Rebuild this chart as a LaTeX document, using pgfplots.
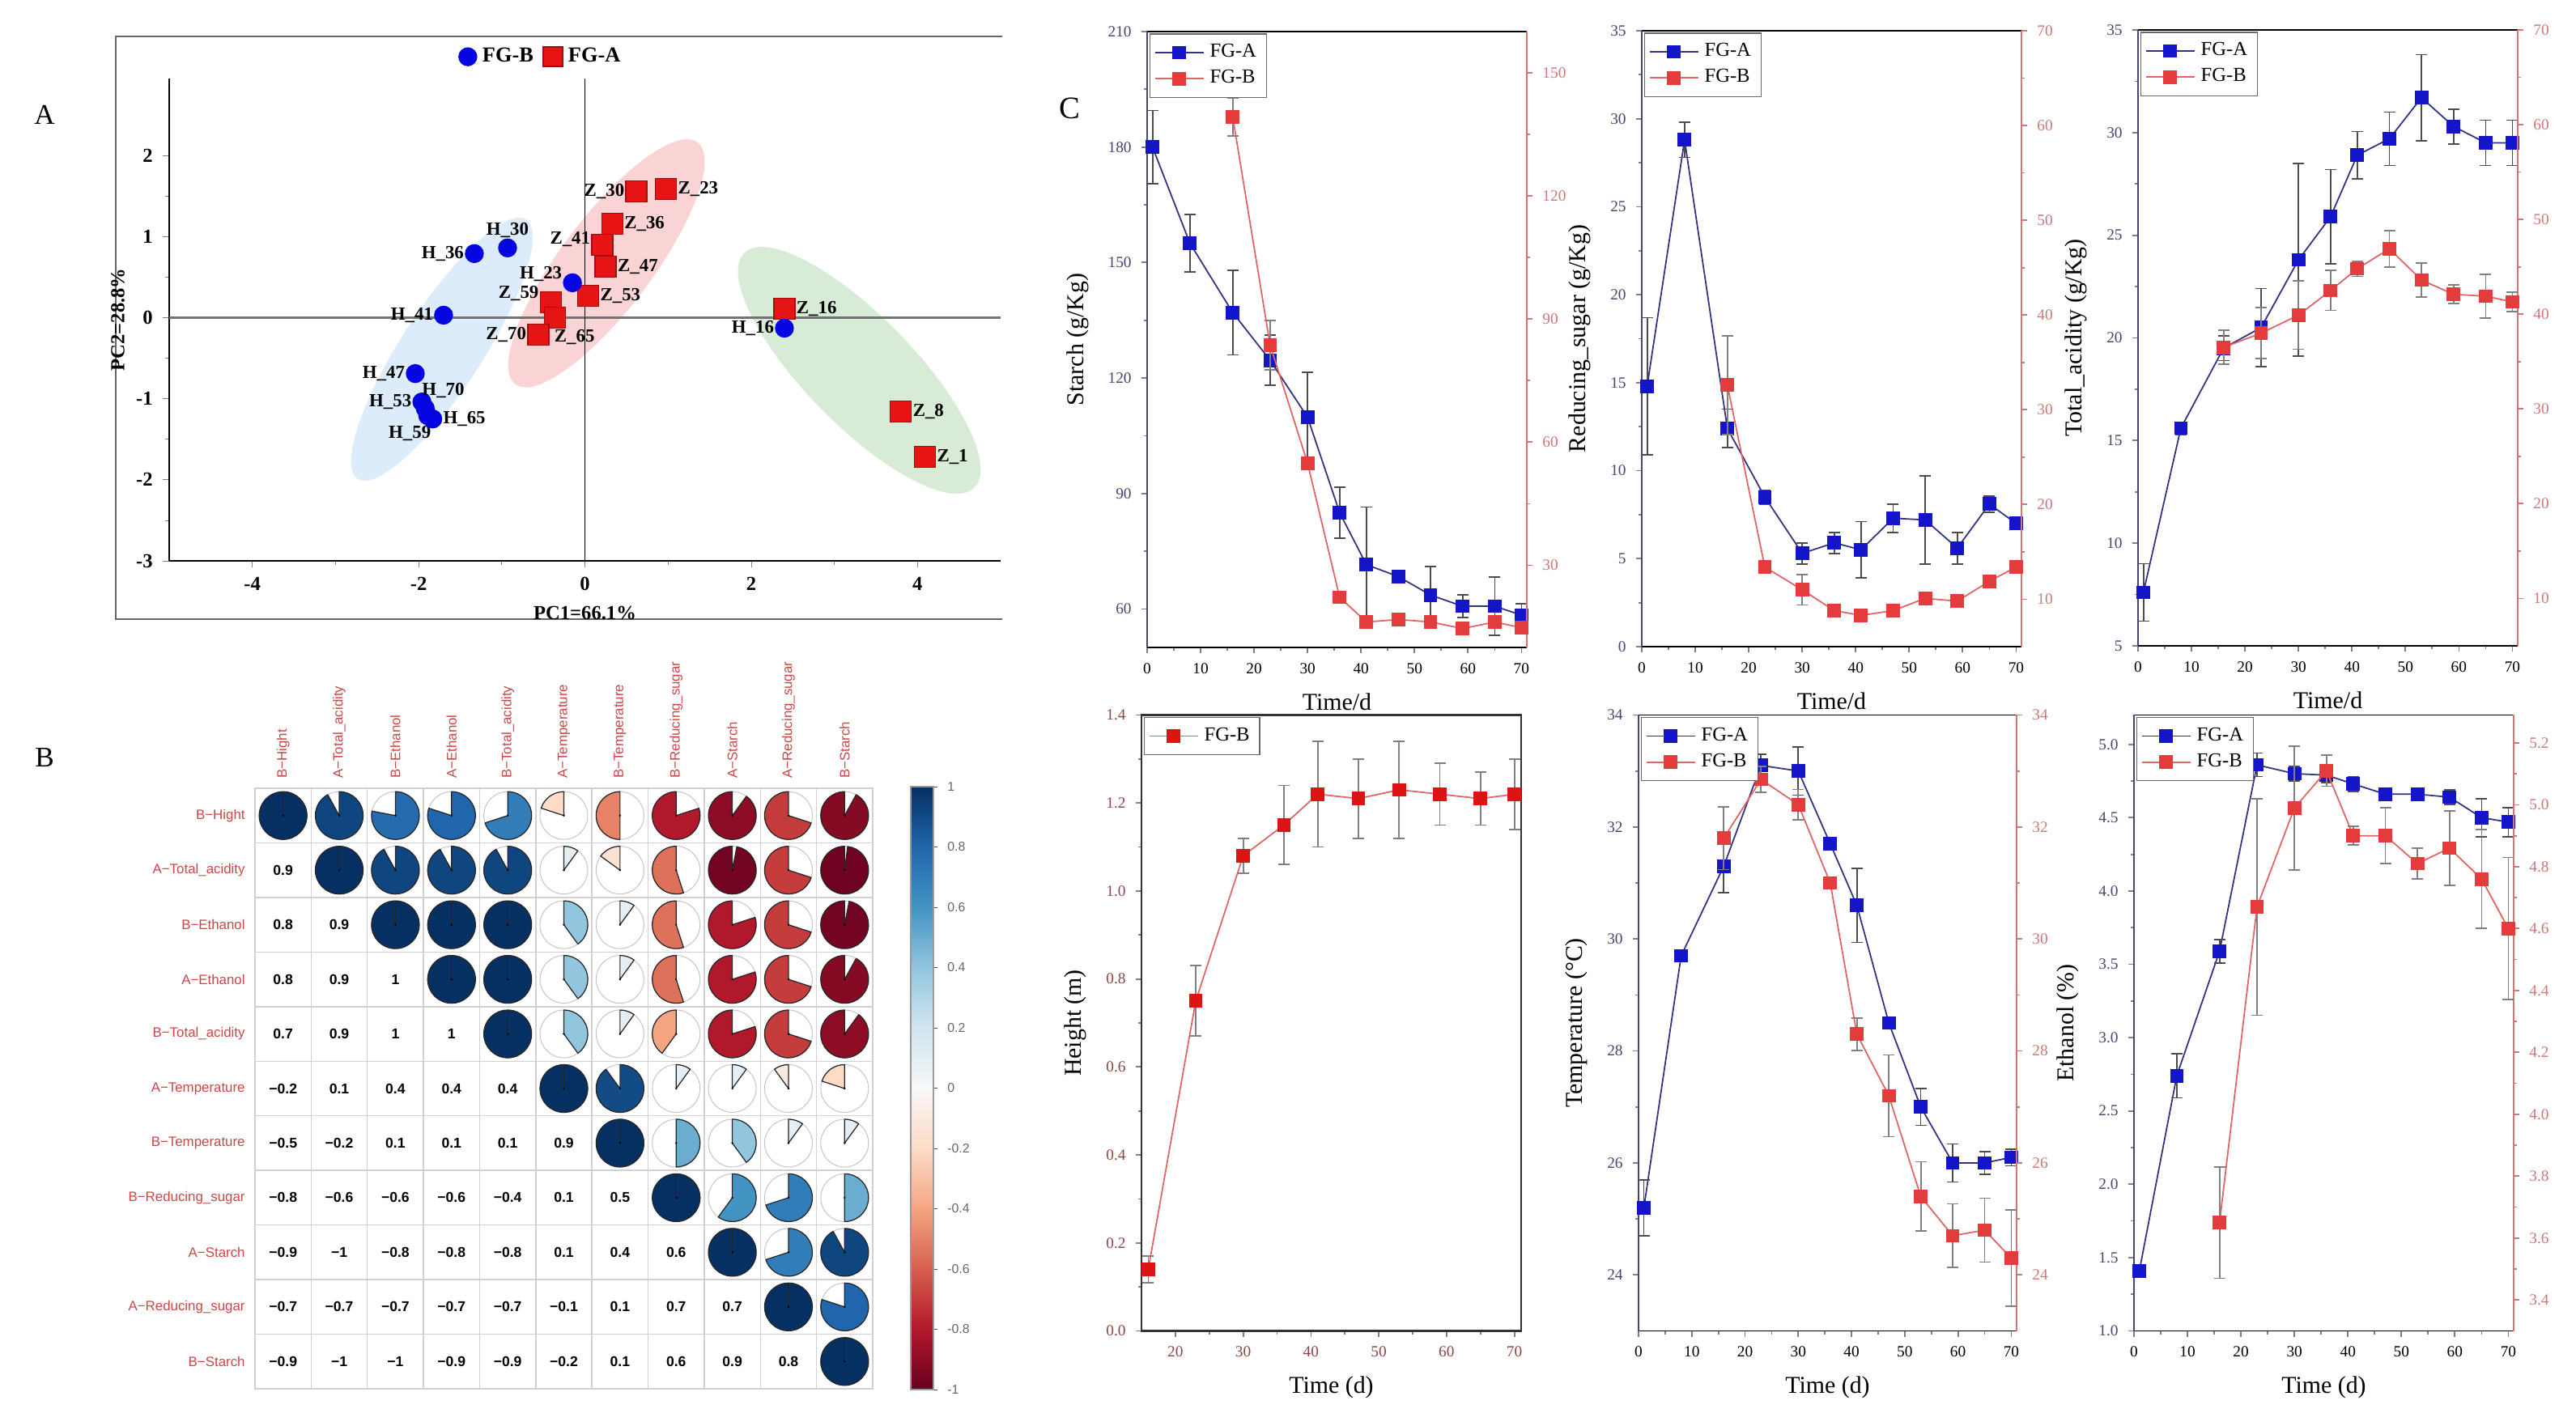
\documentclass[border=0pt]{standalone}
\usepackage{pgfplots}
\pgfplotsset{compat=1.18}
\usepackage{fontspec}
\setmainfont{Liberation Serif}
\setsansfont{Liberation Sans}

\definecolor{mkA}{RGB}{20,20,200}
\definecolor{lnA}{RGB}{50,50,130}
\definecolor{mkB}{RGB}{228,60,60}
\definecolor{lnB}{RGB}{225,100,100}
\definecolor{axL}{RGB}{70,70,110}
\definecolor{axR}{RGB}{205,120,120}
\definecolor{lblred}{RGB}{205,70,70}
\definecolor{pcablue}{RGB}{5,5,225}
\definecolor{pcared}{RGB}{230,20,20}
\definecolor{hcol}{RGB}{140,70,70}

\newcommand{\fs}[1]{\fontsize{#1}{#1}\selectfont}

\pgfplotsset{
  cbase/.style={
    scale only axis, anchor=south west, width=4.69cm, height=7.61cm,
    xmin=0, xmax=71, xtick={0,10,...,70}, minor x tick num=1,
    /pgf/number format/assume math mode=true,
    tick align=outside,
    major tick length=0.07cm, minor tick length=0.04cm,
    tick style={line width=0.5pt},
    ticklabel style={font=\fs{5.5}},
    label style={font=\fs{8.5}},
    legend cell align=left,
    legend style={at={(0.006,0.997)}, anchor=north west, draw=black!60, line width=0.4pt,
      font=\fs{7}, inner sep=1.5pt, row sep=-1pt},
  },
  cleft/.style={cbase, axis y line*=left, tick pos=left,
    y axis line style={axL, line width=0.6pt},
    yticklabel style={text=axL}},
  cright/.style={cbase, axis y line*=right, axis x line=none,
    y axis line style={axR, line width=0.6pt},
    yticklabel style={text=axR}, ytick style={axR}},
  serA/.style={lnA, line width=0.5pt, mark=square*, mark size=0.075cm,
    mark options={fill=mkA, draw=mkA, solid},
    /pgfplots/error bars/y dir=both, /pgfplots/error bars/y explicit,
    /pgfplots/error bars/error bar style={black!70, line width=0.5pt},
    /pgfplots/error bars/error mark options={rotate=90, mark size=0.07cm, black!70, line width=0.5pt}},
  serB/.style={lnB, line width=0.5pt, mark=square*, mark size=0.075cm,
    mark options={fill=mkB, draw=mkB, solid},
    /pgfplots/error bars/y dir=both, /pgfplots/error bars/y explicit,
    /pgfplots/error bars/error bar style={black!50, line width=0.5pt},
    /pgfplots/error bars/error mark options={rotate=90, mark size=0.07cm, black!50, line width=0.5pt}},
}

\begin{document}
\begin{tikzpicture}
\useasboundingbox (0,0) rectangle (31.82,17.61);

% ---------------- Panel A frame and labels
\draw[black!60, line width=0.6pt] (12.38,17.16) -- (1.43,17.16) -- (1.43,9.96) -- (12.38,9.96);
\node[font=\fs{10}] at (0.55,16.19) {A};
\node[font=\fs{10}] at (0.55,8.25) {B};
\node[font=\fs{11}] at (13.21,16.27) {C};

% ---------------- Panel A: PCA
\begin{axis}[
  at={(2.09cm,10.68cm)}, anchor=south west, scale only axis,
  width=10.27cm, height=5.96cm,
  xmin=-5, xmax=5, ymin=-3, ymax=2.95,
  xtick={-4,-2,0,2,4}, ytick={-3,-2,-1,0,1,2},
  minor x tick num=1, minor y tick num=1,
  axis x line*=bottom, axis y line*=left,
  tick align=outside, major tick length=0.08cm, minor tick length=0.05cm,
  /pgf/number format/assume math mode=true,
  ticklabel style={font=\fs{7}\bfseries},
  xlabel={PC1=66.1\%}, ylabel={PC2=28.8\%},
  label style={font=\fs{7}\bfseries},
  xlabel style={yshift=0.05cm}, ylabel style={yshift=-0.1cm},
  clip=false,
  legend style={at={(0.449,1.045)}, anchor=center, draw=none, fill=none,
    legend columns=2, font=\fs{7.5}\bfseries,
    /tikz/every even column/.append style={column sep=0.05cm}},
]
\addlegendimage{only marks, mark=*, mark size=0.11cm, mark options={fill=pcablue, draw=pcablue}}
\addlegendentry{FG-B}
\addlegendimage{only marks, mark=square*, mark size=0.12cm, mark options={fill=pcared, draw=pcared!70!black}}
\addlegendentry{FG-A}

\fill[fill={rgb,255:red,220;green,236;blue,250}, rotate around={57:(axis cs:-1.72,-0.39)}]
  (axis cs:-1.72,-0.39) ellipse[x radius=1.91cm, y radius=0.5cm];
\fill[fill={rgb,255:red,250;green,212;blue,212}, rotate around={53:(axis cs:0.26,0.67)}]
  (axis cs:0.26,0.67) ellipse[x radius=1.87cm, y radius=0.565cm];
\fill[fill={rgb,255:red,215;green,235;blue,215}, rotate around={-45.6:(axis cs:3.30,-0.65)}]
  (axis cs:3.30,-0.65) ellipse[x radius=2.03cm, y radius=0.67cm];

\draw[black!55, line width=0.9pt] (axis cs:-5,0) -- (axis cs:5,0);
\draw[black, line width=0.5pt] (axis cs:0,-3) -- (axis cs:0,2.95);

\addplot[forget plot, only marks, mark=square*, mark size=0.13cm,
  mark options={fill=pcared, draw=pcared!70!black},
  nodes near coords, point meta=explicit symbolic,
  visualization depends on={value \thisrow{anc}\as\myanc},
  every node near coord/.append style={anchor=\myanc, outer sep=0.15cm, inner sep=0pt,
    font=\fs{6.5}\bfseries, text=black}]
table[x=x, y=y, meta=lab]{
x y lab anc
0.62 1.56 Z\_30 0
0.975 1.59 Z\_23 180
0.33 1.16 Z\_36 180
0.21 0.90 Z\_41 -10
0.25 0.63 Z\_47 180
0.04 0.27 Z\_53 180
-0.41 0.19 Z\_59 -15
-0.36 0.0 Z\_65 135
-0.56 -0.21 Z\_70 0
2.40 0.11 Z\_16 180
3.80 -1.16 Z\_8 180
4.09 -1.72 Z\_1 180
};
\addplot[forget plot, only marks, mark=*, mark size=0.11cm,
  mark options={fill=pcablue, draw=pcablue},
  nodes near coords, point meta=explicit symbolic,
  visualization depends on={value \thisrow{anc}\as\myanc},
  every node near coord/.append style={anchor=\myanc, outer sep=0.13cm, inner sep=0pt,
    font=\fs{6.5}\bfseries, text=black}]
table[x=x, y=y, meta=lab]{
x y lab anc
-0.15 0.43 H\_23 -15
-0.93 0.86 H\_30 -90
-1.33 0.79 H\_36 0
-1.70 0.03 H\_41 0
-2.04 -0.69 H\_47 0
-1.96 -1.04 H\_53 0
-1.92 -1.12 H\_70 -135
-1.89 -1.21 H\_59 45
-1.83 -1.25 H\_65 180
2.40 -0.13 H\_16 0
};
\end{axis}

% ---------------- Panel B: correlation matrix
\begin{axis}[
  at={(3.15cm,0.45cm)}, anchor=south west, scale only axis,
  width=7.63cm, height=7.42cm,
  xmin=0.5, xmax=11.5, ymin=0.5, ymax=11.5,
  xtick={1,...,11}, ytick={1,...,11},
  xticklabels={B−Hight, A−Total\_acidity, B−Ethanol, A−Ethanol, B−Total\_acidity, A−Temperature, B−Temperature, B−Reducing\_sugar, A−Starch, A−Reducing\_sugar, B−Starch},
  yticklabels={B−Starch, A−Reducing\_sugar, A−Starch, B−Reducing\_sugar, B−Temperature, A−Temperature, B−Total\_acidity, A−Ethanol, B−Ethanol, A−Total\_acidity, B−Hight},
  xticklabel pos=upper,
  x tick label style={rotate=90, anchor=west, font=\sffamily\fs{4.8}, text=lblred},
  y tick label style={font=\sffamily\fs{4.8}, text=lblred},
  major tick length=0pt, minor tick length=0pt,
  minor xtick={1.5,2.5,3.5,4.5,5.5,6.5,7.5,8.5,9.5,10.5},
  minor ytick={1.5,2.5,3.5,4.5,5.5,6.5,7.5,8.5,9.5,10.5},
  xminorgrids=true, yminorgrids=true,
  minor grid style={black!18, line width=0.4pt},
  axis line style={black!18, line width=0.4pt},
  colormap={rdbu}{rgb255(0cm)=(103,0,31); rgb255(1cm)=(178,24,43); rgb255(2cm)=(214,96,77); rgb255(3cm)=(244,165,130); rgb255(4cm)=(253,219,199); rgb255(5cm)=(247,247,247); rgb255(6cm)=(209,229,240); rgb255(7cm)=(146,197,222); rgb255(8cm)=(67,147,195); rgb255(9cm)=(33,102,172); rgb255(10cm)=(5,48,97)},
  point meta min=-1, point meta max=1,
  colorbar,
  colorbar style={
    at={(parent axis.north east)}, anchor=north west, xshift=0.17cm, yshift=0.02cm,
    scale only axis, width=0.28cm, height=7.45cm,
    ytick={-1,-0.8,-0.6,-0.4,-0.2,0,0.2,0.4,0.6,0.8,1},
    yticklabel pos=right, ytick pos=right, tick align=outside,
    major tick length=0.05cm,
    /pgf/number format/assume math mode=true,
    yticklabel style={font=\sffamily\fs{4.5}, text=black!60},
    axis line style={black!40, line width=0.3pt},
    ytick style={black!70},
  },
]
\addplot[scatter, only marks, mark=*, mark size=0.1pt, mark options={draw=none, fill=none},
  point meta=explicit,
  scatter/@pre marker code/.code={%
    \expandafter\pgfplotscolormapdefinemappedcolor\expandafter{\pgfplotspointmetatransformed}%
    \pgfmathsetmacro\pieend{450-0.72*\pgfplotspointmetatransformed}%
    \draw[black!22, line width=0.3pt] (0cm,0cm) circle[radius=0.295cm];%
    \filldraw[fill=mapped color, draw=black!85, line width=0.35pt, line join=round] (0cm,0cm) -- (0cm,0.295cm) arc[start angle=90, end angle=\pieend, radius=0.295cm] -- cycle;%
    \scope
  },
  scatter/@post marker code/.code={\endscope},
] table[x=x, y=y, meta=r]{
x y r
1 11 1
2 11 0.92
3 11 0.78
4 11 0.8
5 11 0.7
6 11 -0.2
7 11 -0.5
8 11 -0.8
9 11 -0.9
10 11 -0.7
11 11 -0.92
2 10 1
3 10 0.92
4 10 0.92
5 10 0.92
6 10 0.1
7 10 -0.15
8 10 -0.55
9 10 -0.97
10 10 -0.7
11 10 -0.98
3 9 1
4 9 1
5 9 1
6 9 0.4
7 9 0.1
8 9 -0.55
9 9 -0.8
10 9 -0.7
11 9 -0.97
4 8 1
5 8 1
6 8 0.4
7 8 0.1
8 8 -0.55
9 8 -0.8
10 8 -0.7
11 8 -0.92
5 7 1
6 7 0.4
7 7 0.1
8 7 -0.4
9 7 -0.8
10 7 -0.7
11 7 -0.9
6 6 1
7 6 0.9
8 6 0.1
9 6 0.1
10 6 -0.1
11 6 -0.2
7 5 1
8 5 0.5
9 5 0.4
10 5 0.1
11 5 0.1
8 4 1
9 4 0.6
10 4 0.7
11 4 0.5
9 3 1
10 3 0.7
11 3 0.92
10 2 1
11 2 0.8
11 1 1
};
\addplot[draw=none, mark=none, nodes near coords, point meta=explicit symbolic,
  every node near coord/.append style={anchor=center, font=\sffamily\bfseries\fs{5}, text=black}]
table[x=x, y=y, meta=lab]{
x y lab
1 10 0.9
1 9 0.8
2 9 0.9
1 8 0.8
2 8 0.9
3 8 1
1 7 0.7
2 7 0.9
3 7 1
4 7 1
1 6 −0.2
2 6 0.1
3 6 0.4
4 6 0.4
5 6 0.4
1 5 −0.5
2 5 −0.2
3 5 0.1
4 5 0.1
5 5 0.1
6 5 0.9
1 4 −0.8
2 4 −0.6
3 4 −0.6
4 4 −0.6
5 4 −0.4
6 4 0.1
7 4 0.5
1 3 −0.9
2 3 −1
3 3 −0.8
4 3 −0.8
5 3 −0.8
6 3 0.1
7 3 0.4
8 3 0.6
1 2 −0.7
2 2 −0.7
3 2 −0.7
4 2 −0.7
5 2 −0.7
6 2 −0.1
7 2 0.1
8 2 0.7
9 2 0.7
1 1 −0.9
2 1 −1
3 1 −1
4 1 −0.9
5 1 −0.9
6 1 −0.2
7 1 0.1
8 1 0.6
9 1 0.9
10 1 0.8
};
\end{axis}

% ---------------- Panel C1: Starch
\begin{axis}[cleft, at={(14.17cm,9.61cm)}, ymin=50, ymax=210, ytick={60,90,...,210}, minor y tick num=1,
  xlabel={Time/d}, ylabel={Starch (g/Kg)}]
\addplot[serA] table[x=t, y=v, y error=e]{
t v e
1 180 9.5
8 155 7.5
16 137 11
23 124.6 6.5
30 109.8 11.7
36 85 6.6
41 71.5 15
47 68.4 1.5
53 63.6 7.5
59 60.7 3
65 60.7 7.6
70 58.4 3
};
\end{axis}
\begin{axis}[cright, at={(14.17cm,9.61cm)}, ymin=10, ymax=160, ytick={30,60,...,150}, minor y tick num=1]
\addlegendimage{serA}\addlegendentry{FG-A}
\addplot[serB] table[x=t, y=v, y error=e]{
t v e
16 139.2 4.6
23 83.6 6
30 54.9 1.5
36 22.2 1
41 16.2 1
47 16.8 1
53 16.2 1
59 14.6 1
65 16.2 1
70 14.8 1
};
\addlegendentry{FG-B}
\end{axis}

% ---------------- Panel C2: Reducing sugar
\begin{axis}[cleft, at={(20.28cm,9.62cm)}, ymin=0, ymax=35, ytick={0,5,...,35}, minor y tick num=1,
  xlabel={Time/d}, ylabel={Reducing\_sugar (g/Kg)}]
\addplot[serA] table[x=t, y=v, y error=e]{
t v e
1 14.8 3.9
8 28.8 1.0
16 12.4 1.1
23 8.5 0.4
30 5.3 0.6
36 5.9 0.6
41 5.5 1.6
47 7.3 0.8
53 7.2 2.5
59 5.6 0.9
65 8.1 0.45
70 7.0 0.3
};
\end{axis}
\begin{axis}[cright, at={(20.28cm,9.62cm)}, ymin=5, ymax=70, ytick={10,20,...,70}, minor y tick num=1]
\addlegendimage{serA}\addlegendentry{FG-A}
\addplot[serB] table[x=t, y=v, y error=e]{
t v e
16 32.6 5.2
23 13.4 0.6
30 11.0 1.6
36 8.8 0.5
41 8.3 0.5
47 8.8 0.5
53 10.1 0.5
59 9.8 0.5
65 11.9 0.5
70 13.4 0.5
};
\addlegendentry{FG-B}
\end{axis}

% ---------------- Panel C3: Total acidity
\begin{axis}[cleft, at={(26.41cm,9.63cm)}, ymin=5, ymax=35, ytick={5,10,...,35}, minor y tick num=1,
  xlabel={Time/d}, ylabel={Total\_acidity (g/Kg)}]
\addplot[serA] table[x=t, y=v, y error=e]{
t v e
1 7.6 1.4
8 15.6 0.3
16 19.5 0.6
23 20.5 1.9
30 23.8 4.7
36 25.9 2.3
41 28.9 1.15
47 29.7 1.3
53 31.7 2.1
59 30.3 0.85
65 29.5 1.1
70 29.5 1.1
};
\end{axis}
\begin{axis}[cright, at={(26.41cm,9.63cm)}, ymin=5, ymax=70, ytick={10,20,...,70}, minor y tick num=1]
\addlegendimage{serA}\addlegendentry{FG-A}
\addplot[serB] table[x=t, y=v, y error=e]{
t v e
16 36.5 1.8
23 38.0 2.7
30 39.9 3.6
36 42.5 2.1
41 44.8 0.8
47 46.9 1.9
53 43.6 1.8
59 42.1 1.0
65 41.9 2.3
70 41.3 1.0
};
\addlegendentry{FG-B}
\end{axis}

% ---------------- Panel C4: Height
\begin{axis}[cbase, at={(14.10cm,1.165cm)}, tick pos=left,
  xmin=15, xmax=71, xtick={20,30,...,70},
  ymin=0, ymax=1.4, ytick={0,0.2,...,1.4}, minor y tick num=1,
  yticklabel style={/pgf/number format/.cd, fixed, fixed zerofill, precision=1},
  ticklabel style={text=hcol},
  axis line style={black!80, line width=0.6pt},
  xlabel={Time (d)}, ylabel={Height (m)}]
\addplot[serB, mark options={fill={rgb,255:red,220;green,20;blue,20}, draw={rgb,255:red,220;green,20;blue,20}}] table[x=t, y=v, y error=e]{
t v e
16 0.14 0.03
23 0.75 0.08
30 1.08 0.04
36 1.15 0.09
41 1.22 0.12
47 1.21 0.09
53 1.23 0.11
59 1.22 0.07
65 1.21 0.06
70 1.22 0.08
};
\addlegendentry{FG-B}
\end{axis}

% ---------------- Panel C5: Temperature
\begin{axis}[cleft, at={(20.24cm,1.165cm)}, width=4.67cm, ymin=23, ymax=34, ytick={24,26,...,34}, minor y tick num=1,
  xlabel={Time (d)}, ylabel={Temperature (°C)}]
\addplot[serA] table[x=t, y=v, y error=e]{
t v e
1 25.2 0.5
8 29.7 0.1
16 31.3 0.47
23 33.1 0.2
30 33.0 0.43
36 31.7 0.1
41 30.6 0.66
47 28.5 0.1
53 27.0 0.33
59 26.0 0.34
65 26.0 0.2
70 26.1 0.15
};
\end{axis}
\begin{axis}[cright, at={(20.24cm,1.165cm)}, width=4.67cm, ymin=23, ymax=34, ytick={24,26,...,34}, minor y tick num=1]
\addlegendimage{serA}\addlegendentry{FG-A}
\addplot[serB] table[x=t, y=v, y error=e]{
t v e
16 31.8 0.56
23 32.85 0.23
30 32.4 0.27
36 31.0 0.1
41 28.3 0.29
47 27.2 0.73
53 25.4 0.62
59 24.7 0.57
65 24.8 0.57
70 24.3 0.86
};
\addlegendentry{FG-B}
\end{axis}

% ---------------- Panel C6: Ethanol
\begin{axis}[cleft, at={(26.36cm,1.165cm)}, ymin=1, ymax=5.2, ytick={1,1.5,...,5}, minor y tick num=1,
  yticklabel style={/pgf/number format/.cd, fixed, fixed zerofill, precision=1},
  xlabel={Time (d)}, ylabel={Ethanol (\%)}]
\addplot[serA] table[x=t, y=v, y error=e]{
t v e
1 1.41 0.02
8 2.74 0.15
16 3.59 0.08
23 4.86 0.08
30 4.80 0.05
36 4.79 0.05
41 4.73 0.05
47 4.66 0.03
53 4.66 0.03
59 4.64 0.05
65 4.50 0.13
70 4.47 0.1
};
\end{axis}
\begin{axis}[cright, at={(26.36cm,1.165cm)}, ymin=3.3, ymax=5.29,
  ytick={3.4,3.6,3.8,4.0,4.2,4.4,4.6,4.8,5.0,5.2}, minor y tick num=1,
  yticklabel style={/pgf/number format/.cd, fixed, fixed zerofill, precision=1}]
\addlegendimage{serA}\addlegendentry{FG-A}
\addplot[serB] table[x=t, y=v, y error=e]{
t v e
16 3.65 0.18
23 4.67 0.35
30 4.99 0.2
36 5.11 0.05
41 4.90 0.03
47 4.90 0.09
53 4.81 0.05
59 4.86 0.12
65 4.76 0.16
70 4.60 0.23
};
\addlegendentry{FG-B}
\end{axis}
\end{tikzpicture}
\end{document}
